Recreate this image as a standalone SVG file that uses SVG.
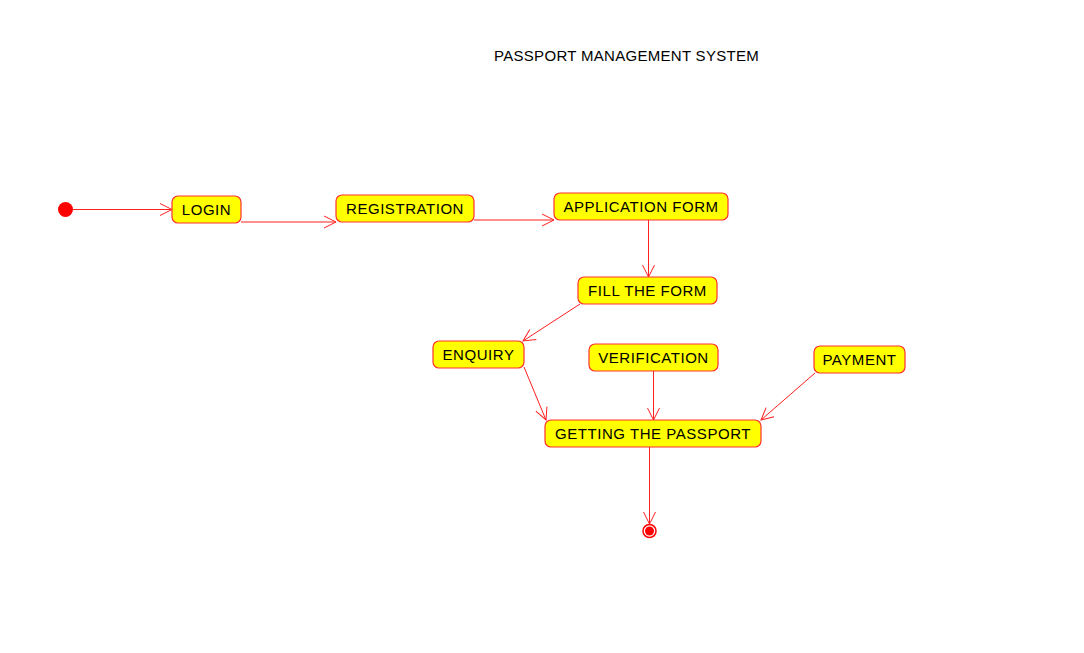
<svg xmlns="http://www.w3.org/2000/svg" width="1084" height="653" viewBox="0 0 1084 653">
<defs>
<style>
.n rect{fill:#ffff00;stroke:#ff3030;stroke-width:1.2}
.n text{font-family:"Liberation Sans",Arial,sans-serif;font-size:15px;fill:#000;text-anchor:middle;letter-spacing:0.55px}
.c line{stroke:#ff2020;stroke-width:1;fill:none;marker-end:url(#a)}
.t{font-family:"Liberation Sans",Arial,sans-serif;font-size:15px;fill:#000;letter-spacing:0.3px}
</style>
<marker id="a" markerWidth="14" markerHeight="14" viewBox="0 0 14 14" refX="13" refY="7" orient="auto" markerUnits="userSpaceOnUse">
<path d="M1,1 L13,7 L1,13" fill="none" stroke="#ff2020" stroke-width="1"/>
</marker>
</defs>
<rect width="1084" height="653" fill="#fff"/>
<text class="t" x="494" y="61">PASSPORT MANAGEMENT SYSTEM</text>
<g class="c" id="connectors">
<line x1="73" y1="209.5" x2="172" y2="209.5"/>
<line x1="241" y1="222" x2="336" y2="222"/>
<line x1="474" y1="220" x2="554" y2="220"/>
<line x1="648.5" y1="220" x2="648.5" y2="277"/>
<line x1="580" y1="304" x2="523" y2="341"/>
<line x1="524" y1="367" x2="546" y2="420"/>
<line x1="653.5" y1="371" x2="653.5" y2="420"/>
<line x1="815" y1="373" x2="761" y2="420"/>
<line x1="649.5" y1="447" x2="649.5" y2="524"/>
</g>
<g id="start"><circle cx="65.5" cy="209.5" r="7.5" fill="#ff0000"/></g>
<g id="login" class="n"><rect x="172" y="196" width="69" height="27" rx="6"/><text x="206.5" y="215">LOGIN</text></g>
<g id="registration" class="n"><rect x="336" y="195" width="138" height="27" rx="6"/><text x="405" y="214">REGISTRATION</text></g>
<g id="application" class="n"><rect x="554" y="193" width="174" height="27" rx="6"/><text x="641" y="212">APPLICATION FORM</text></g>
<g id="fill" class="n"><rect x="578" y="277" width="139" height="27" rx="6"/><text x="647.5" y="296">FILL THE FORM</text></g>
<g id="enquiry" class="n"><rect x="433" y="341" width="91" height="27" rx="6"/><text x="478.5" y="360">ENQUIRY</text></g>
<g id="verification" class="n"><rect x="589" y="344" width="129" height="27" rx="6"/><text x="653.5" y="363">VERIFICATION</text></g>
<g id="payment" class="n"><rect x="814" y="346" width="91" height="27" rx="6"/><text x="859.5" y="365">PAYMENT</text></g>
<g id="getting" class="n"><rect x="545" y="420" width="216" height="27" rx="6"/><text x="653" y="439">GETTING THE PASSPORT</text></g>
<g id="end"><circle cx="649.5" cy="531" r="6.5" fill="none" stroke="#ff0000" stroke-width="1.5"/><circle cx="649.5" cy="531" r="4.5" fill="#ff0000"/></g>
</svg>
